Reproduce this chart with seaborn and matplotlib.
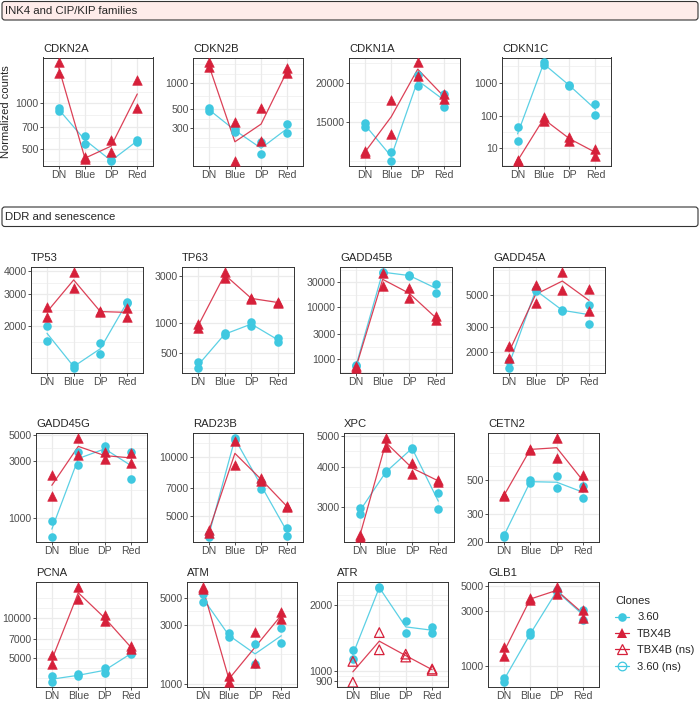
import numpy as np
import pandas as pd
import seaborn as sns
import matplotlib.pyplot as plt
from matplotlib.lines import Line2D
from matplotlib.patches import FancyBboxPatch
from matplotlib.ticker import NullFormatter

groups = ["DN", "Blue", "DP", "Red"]
clone_labels = ["3.60", "TBX4B", "TBX4B (ns)", "3.60 (ns)"]

# two replicates per group, order DN, Blue, DP, Red
cdkn2a_360 = [(930, 890), (610, 545), (425, 420), (580, 557)]
cdkn2a_tbx = [(1840, 1580), (445, 432), (575, 480), (1415, 930)]
cdkn2a_ticks = [500, 700, 1000]

cdkn2b_360 = [(513, 481), (297, 271), (206, 149), (340, 261)]
cdkn2b_tbx = [(1760, 1540), (350, 124), (523, 215), (1510, 1315)]
cdkn2b_ticks = [300, 500, 1000]

cdkn1a_360 = [(14890, 14430), (12020, 11230), (21110, 19510), (18440, 16730)]
cdkn1a_tbx = [(12090, 11880), (17600, 13750), (23180, 21000), (18360, 17680)]
cdkn1a_ticks = [15000, 20000]

cdkn1c_360 = [(45, 17), (4200, 3500), (870, 790), (229, 107)]
cdkn1c_tbx = [(4.3, 4.1), (89, 70), (23, 17), (9.8, 5.8)]
cdkn1c_ticks = [10, 100, 1000]

tp53_360 = [(2000, 1662), (1221, 1171), (1608, 1398), (2722, 2667)]
tp53_tbx = [(2560, 2234), (3975, 3236), (2426, 2376), (2528, 2234)]
tp53_ticks = [2000, 3000, 4000]

tp63_360 = [(405, 353), (802, 755), (1039, 934), (716, 649)]
tp63_tbx = [(985, 899), (3320, 2900), (1810, 1770), (1640, 1610)]
tp63_ticks = [500, 1000, 3000]

gadd45b_360 = [(778, 722), (48150, 46700), (41600, 40000), (27900, 19200)]
gadd45b_tbx = [(722, 670), (46700, 25500), (23000, 14900), (6810, 5700)]
gadd45b_ticks = [1000, 3000, 10000, 30000]

gadd45a_360 = [(1740, 1543), (5500, 5335), (3950, 3900), (4280, 3130)]
gadd45a_tbx = [(2193, 1833), (5860, 4395), (7300, 5420), (5500, 3855)]
gadd45a_ticks = [2000, 3000, 5000]

gadd45g_360 = [(950, 700), (3560, 2810), (4000, 3630), (3560, 2140)]
gadd45g_tbx = [(2310, 1550), (4700, 3400), (3560, 3150), (3500, 2930)]
gadd45g_ticks = [1000, 3000, 5000]

rad23b_360 = [(4075, 3920), (12510, 12265), (7435, 6915), (4365, 3960)]
rad23b_tbx = [(4280, 4105), (12020, 9080), (7830, 7580), (5615, 5560)]
rad23b_ticks = [5000, 7000, 10000]

xpc_360 = [(2960, 2851), (3874, 3827), (4576, 4550), (3305, 2945)]
xpc_tbx = [(2440, 2410), (4917, 4600), (4119, 3807), (3645, 3576)]
xpc_ticks = [3000, 4000, 5000]

cetn2_360 = [(222, 214), (500, 476), (531, 441), (457, 380)]
cetn2_tbx = [(399, 393), (792, 785), (935, 699), (539, 452)]
cetn2_ticks = [200, 300, 500]

pcna_360 = [(3697, 3330), (3800, 3700), (4270, 3906), (5480, 5400)]
pcna_tbx = [(5305, 4515), (17010, 13860), (10490, 9500), (6195, 5865)]
pcna_ticks = [5000, 7000, 10000]

atm_360 = [(5367, 4605), (2574, 2377), (2103, 1455), (2818, 2143)]
atm_tbx = [(6141, 5883), (1161, 1029), (2656, 1483), (3834, 3390)]
atm_ticks = [1000, 3000, 5000]

atr_360 = [(1247, 1130), (2427, 2386), (1698, 1486), (1582, 1486)]
atr_tbx = [(1103, 885), (1496, 1247), (1191, 1155), (1018, 1003)]
atr_ticks = [900, 1000, 2000]

glb1_360 = [(791, 722), (1967, 1843), (4580, 4370), (3060, 2520)]
glb1_tbx = [(1449, 1215), (3890, 3760), (4890, 4240), (3100, 2635)]
glb1_ticks = [1000, 3000, 5000]

ns_genes = ["ATR"]  # TBX4B not significant

panels = [
    ("CDKN2A", cdkn2a_360, cdkn2a_tbx, cdkn2a_ticks),
    ("CDKN2B", cdkn2b_360, cdkn2b_tbx, cdkn2b_ticks),
    ("CDKN1A", cdkn1a_360, cdkn1a_tbx, cdkn1a_ticks),
    ("CDKN1C", cdkn1c_360, cdkn1c_tbx, cdkn1c_ticks),
    ("TP53", tp53_360, tp53_tbx, tp53_ticks),
    ("TP63", tp63_360, tp63_tbx, tp63_ticks),
    ("GADD45B", gadd45b_360, gadd45b_tbx, gadd45b_ticks),
    ("GADD45A", gadd45a_360, gadd45a_tbx, gadd45a_ticks),
    ("GADD45G", gadd45g_360, gadd45g_tbx, gadd45g_ticks),
    ("RAD23B", rad23b_360, rad23b_tbx, rad23b_ticks),
    ("XPC", xpc_360, xpc_tbx, xpc_ticks),
    ("CETN2", cetn2_360, cetn2_tbx, cetn2_ticks),
    ("PCNA", pcna_360, pcna_tbx, pcna_ticks),
    ("ATM", atm_360, atm_tbx, atm_ticks),
    ("ATR", atr_360, atr_tbx, atr_ticks),
    ("GLB1", glb1_360, glb1_tbx, glb1_ticks),
]

# panel boxes in pixels: left, right, top, bottom
rows_y = [(57.5, 166), (267, 373), (433, 542), (582, 687)]
cols_x = [
    [(43, 153), (193, 303), (349, 460), (502, 611)],
    [(31, 143), (182, 294), (340, 452), (493, 605)],
    [(36, 147), (193, 303), (344, 454), (488, 599)],
    [(36, 147), (187, 297), (337, 448), (488, 599)],
]

RED = "#D6203A"
CYAN = "#3FC8E0"
GRID = "#EBEBEB"
DARK = "#333333"

sns.set_style("ticks")
plt.rcParams["font.family"] = ["Liberation Sans", "DejaVu Sans"]

W, H = 700, 702
fig = plt.figure(figsize=(W / 100, H / 100), dpi=100)


def box(l, r, t, b):
    return [l / W, 1 - b / H, (r - l) / W, (b - t) / H]


def long_df(pairs, clone):
    rows = []
    for g, reps in zip(groups, pairs):
        for v in reps:
            rows.append((g, clone, v))
    return pd.DataFrame(rows, columns=["group", "clone", "counts"])


def minor_breaks(ticks):
    lt = np.log10(ticks)
    step = lt[1] - lt[0]
    ext = np.concatenate([[lt[0] - step], lt, [lt[-1] + step]])
    mids = (ext[:-1] + ext[1:]) / 2
    return 10 ** np.sort(np.concatenate([ext, mids]))


def draw_panel(ax, name, d360, dtbx, ticks):
    ax.set_yscale("log")
    df = pd.concat([long_df(d360, "3.60"), long_df(dtbx, "TBX4B")], ignore_index=True)

    sns.lineplot(data=df, x="group", y="counts", hue="clone",
                 palette={"3.60": CYAN, "TBX4B": RED}, estimator="mean",
                 errorbar=None, linewidth=0.9, alpha=0.85, legend=False, ax=ax)

    sns.scatterplot(data=df[df.clone == "3.60"], x="group", y="counts",
                    color=CYAN, marker="o", s=38, edgecolor=CYAN, linewidth=0,
                    legend=False, ax=ax, zorder=3)
    tbx = df[df.clone == "TBX4B"]
    if name in ns_genes:
        sns.scatterplot(data=tbx, x="group", y="counts", marker="^", s=48,
                        facecolor="none", edgecolor=RED, linewidth=0.9,
                        legend=False, ax=ax, zorder=3)
    else:
        sns.scatterplot(data=tbx, x="group", y="counts", color=RED, marker="^",
                        s=48, edgecolor=RED, linewidth=0.4, legend=False,
                        ax=ax, zorder=3)

    lo, hi = np.log10(df.counts.min()), np.log10(df.counts.max())
    pad = 0.05 * (hi - lo)
    ax.set_yticks(ticks, labels=[f"{t:g}" for t in ticks])
    ax.set_yticks(minor_breaks(ticks), minor=True)
    ax.yaxis.set_minor_formatter(NullFormatter())
    ax.set_ylim(10 ** (lo - pad), 10 ** (hi + pad))
    ax.set_xlim(-0.6, 3.6)

    ax.grid(True, which="major", color=GRID, lw=0.9)
    ax.grid(True, which="minor", axis="y", color=GRID, lw=0.45)
    ax.set_axisbelow(True)
    ax.tick_params(which="major", length=2.2, width=0.6, color=DARK,
                   labelsize=7.6, labelcolor="#4D4D4D", pad=1.0)
    ax.tick_params(which="minor", length=0)
    for s in ax.spines.values():
        s.set_visible(True)
        s.set_color(DARK)
        s.set_linewidth(0.7)
    ax.set_xlabel("")
    ax.set_ylabel("")
    ax.set_title(name, loc="left", fontsize=8.1, pad=4)


k = 0
for ri, (top, bottom) in enumerate(rows_y):
    for (left, right) in cols_x[ri]:
        name, d360, dtbx, ticks = panels[k]
        ax = fig.add_axes(box(left, right, top, bottom))
        draw_panel(ax, name, d360, dtbx, ticks)
        k += 1

# section strips
for (t, b, label, fill) in [(1.5, 20, "INK4 and CIP/KIP families", "#FEECEA"),
                            (207, 226.5, "DDR and senescence", "white")]:
    fig.add_artist(FancyBboxPatch((2 / W, 1 - b / H), 696 / W, (b - t) / H,
                                  boxstyle="round,pad=0,rounding_size=0.004",
                                  transform=fig.transFigure, facecolor=fill,
                                  edgecolor=DARK, linewidth=0.8))
    fig.text(5 / W, 1 - (t + b) / 2 / H, label, va="center", ha="left", fontsize=8.2)

fig.text(6 / W, 1 - 112 / H, "Normalized counts", rotation=90, va="center",
         ha="center", fontsize=8)

handles = [
    Line2D([], [], color=CYAN, lw=0.9, marker="o", markersize=6.2, markeredgewidth=0),
    Line2D([], [], color=RED, lw=0.9, marker="^", markersize=7, markeredgewidth=0),
    Line2D([], [], color=RED, lw=0.9, marker="^", markersize=7,
           markerfacecolor="none", markeredgewidth=0.9),
    Line2D([], [], color=CYAN, lw=0.9, marker="o", markersize=6.2,
           markerfacecolor="none", markeredgewidth=0.9),
]
fig.legend(handles, clone_labels, title="Clones", loc="upper left",
           bbox_to_anchor=(615 / W, 1 - 596 / H), frameon=False, fontsize=8,
           title_fontsize=8.1, alignment="left", borderpad=0, borderaxespad=0,
           handlelength=1.3, handletextpad=0.7, labelspacing=0.58)

fig.savefig("out.png", dpi=100)
